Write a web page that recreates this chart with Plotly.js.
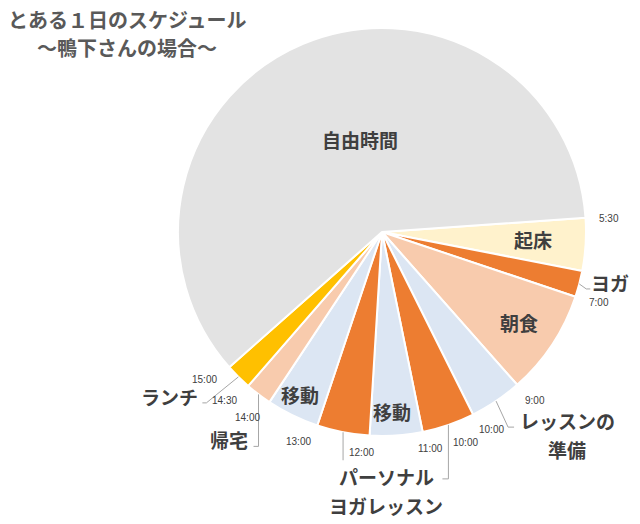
<!DOCTYPE html>
<html>
<head>
<meta charset="utf-8">
<script src="https://cdn.plot.ly/plotly-3.0.1.min.js"></script>
<style>html,body{margin:0;padding:0;background:#fff;}#chart{width:640px;height:524px;}</style>
</head>
<body>
<div id="chart"></div>
<script>
// ---- data ----
const startTimes = ['5:30','6:30','7:00','9:00','10:00','11:00','12:00','13:00','14:00','14:30','15:00'];
const activities = ['起床','ヨガ','朝食','レッスンの準備','パーソナルヨガレッスン','移動','パーソナルヨガレッスン','移動','帰宅','ランチ','自由時間'];
const hours = [1, 0.5, 2, 1, 1, 1, 1, 1, 0.5, 0.5, 14.5];
const timeLabels = ['5:30','7:00','9:00','10:00','10:00','11:00','12:00','13:00','14:00','14:30','15:00'];
const titleLines = ['とある１日のスケジュール', '～鴨下さんの場合～'];

// ---- style ----
const colors = ['#fff2cc','#ed7d31','#f8cbad','#dce6f3','#ed7d31','#dce6f3','#ed7d31','#dce6f3','#f8cbad','#ffc000','#e3e3e3'];
const W = 640, H = 524, CX = 382, CY = 232, R = 204, ROT = 86;
const labelFont = {family: 'Noto Sans CJK JP', size: 19, color: '#3f3f3f', weight: 700};
const timeFont = {family: 'Liberation Sans', size: 10, color: '#404040'};
// inside labels: slice index -> [angle nudge, radius px]
const insideLabels = {0: [-0.5, 151], 2: [0, 164], 5: [0.8, 180], 7: [0.7, 182], 10: [9.3, 95]};
// outside labels: slice index -> {lines, offset of label centre from rim point, leader points rel. to rim}
const outsideLabels = [
  {i: 1, lines: ['ヨガ'], off: [31, -1], lead: [[0,0],[7,5],[11,5]]},
  {i: 3, lines: ['レッスンの','準備'], off: [71, 34], lead: [[0,0],[12,26],[18,26]]},
  {i: 4, lines: ['パーソナル','ヨガレッスン'], off: [-62, 66], lead: [[0,0],[0,54],[-6,54]]},
  {i: 6, lines: [], off: [0, 0], lead: [[0,0],[0,28]]},
  {i: 8, lines: ['帰宅'], off: [-29.5, 45], lead: [[0,0],[0,52],[-5,52]]},
  {i: 9, lines: ['ランチ'], off: [-69, 20], lead: [[0,0],[-32,26],[-36,26]]}
];
const lineGap = 29;
const timeNudge = [0.5, -0.4, -0.8, -2.6, 4.9, -1, 1.7, 3.2, 2.6, 2.1, 1.8];
const timeRad = [227, 228, 228, 226, 226, 222, 221, 225, 229, 231, 231];

// ---- geometry helpers ----
const total = hours.reduce((a, b) => a + b, 0);
const toH = s => { const p = s.split(':'); return +p[0] + (+p[1]) / 60; };
const mids = []; let cum = 0;
hours.forEach(v => { mids.push(ROT + (cum + v / 2) / total * 360); cum += v; });
const polar = (deg, r) => { const a = deg * Math.PI / 180; return [CX + r * Math.sin(a), CY - r * Math.cos(a)]; };
const px = x => x / W, py = y => 1 - y / H;

const annotations = [];
const shapes = [];
function addText(x, y, text, font) {
  annotations.push({x: px(x), y: py(y), xref: 'paper', yref: 'paper', text: text, showarrow: false,
    xanchor: 'center', yanchor: 'middle', font: font});
}
// title
titleLines.forEach((t, k) => addText(127, 19.5 + k * 28, t, {family: 'Noto Sans CJK JP', size: 20, color: '#595959', weight: 700}));
// inside labels
Object.keys(insideLabels).forEach(k => {
  const [dth, r] = insideLabels[k];
  const p = polar(mids[k] + dth, r);
  addText(p[0], p[1], activities[k], labelFont);
});
// outside labels with leader lines
outsideLabels.forEach(o => {
  const s = polar(mids[o.i], R);
  const path = o.lead.map((q, k) => (k ? 'L' : 'M') + px(s[0] + q[0]) + ',' + py(s[1] + q[1])).join(' ');
  shapes.push({type: 'path', xref: 'paper', yref: 'paper', path: path, line: {color: '#a6a6a6', width: 1}});
  const n = o.lines.length;
  o.lines.forEach((t, k) => addText(s[0] + o.off[0], s[1] + o.off[1] + (k - (n - 1) / 2) * lineGap, t, labelFont));
});
// time labels
timeLabels.forEach((t, k) => {
  const deg = ROT + (toH(t) - toH(startTimes[0])) / total * 360 + timeNudge[k];
  const p = polar(deg, timeRad[k]);
  addText(p[0], p[1], t, timeFont);
});

const trace = {
  type: 'pie', labels: startTimes, values: hours, text: activities,
  sort: false, direction: 'clockwise', rotation: ROT,
  marker: {colors: colors, line: {color: '#ffffff', width: 2}},
  textinfo: 'none', hoverinfo: 'none', showlegend: false,
  domain: {x: [(CX - R) / W, (CX + R) / W], y: [1 - (CY + R) / H, 1 - (CY - R) / H]}
};
const layout = {
  width: W, height: H, margin: {l: 0, r: 0, t: 0, b: 0},
  paper_bgcolor: '#ffffff', showlegend: false,
  annotations: annotations, shapes: shapes
};
Plotly.newPlot('chart', [trace], layout, {displayModeBar: false, staticPlot: true});
</script>
</body>
</html>
